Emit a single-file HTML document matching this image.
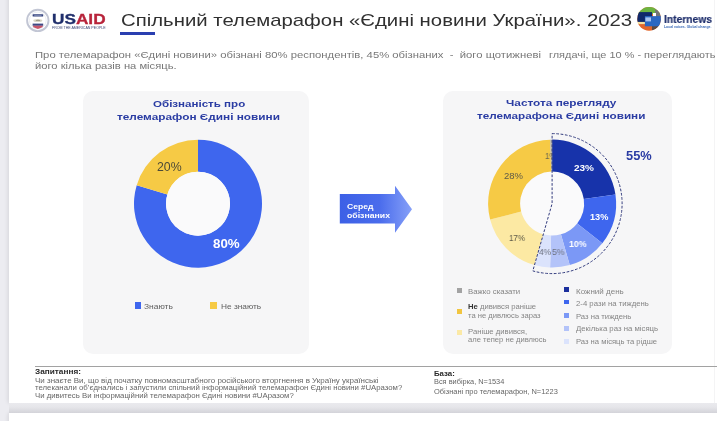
<!DOCTYPE html>
<html lang="uk">
<head>
<meta charset="utf-8">
<title>Спільний телемарафон «Єдині новини України». 2023</title>
<style>
html,body{margin:0;padding:0;}
body{width:717px;height:421px;overflow:hidden;background:#ececf1;position:relative;font-family:"Liberation Sans",sans-serif;}
.page{position:absolute;left:9px;top:-10px;width:720px;height:413px;background:#fff;box-shadow:-1px 0 4px rgba(0,0,20,.10);}
.page2{position:absolute;left:9px;top:413px;width:720px;height:20px;background:#fff;box-shadow:-1px 0 4px rgba(0,0,20,.10);}
.gap{position:absolute;left:9px;top:403px;width:708px;height:10px;background:linear-gradient(#eaeaee,#e6e6ea 40%,#d3d3d9);}
.card{position:absolute;background:#f6f6f7;border-radius:10px;}
.t{position:absolute;white-space:pre;line-height:normal;transform-origin:0 50%;will-change:transform;}
.sq{position:absolute;width:4.8px;height:4.8px;}
svg{position:absolute;left:0;top:0;}
</style>
</head>
<body>
<div class="page"></div>
<div class="page2"></div>
<div class="gap"></div>
<div style="position:absolute;left:714px;top:0;width:1px;height:403px;background:#f4f4f5"></div>
<div class="card" style="left:83.4px;top:91px;width:225.5px;height:263.4px"></div>
<div class="card" style="left:442.8px;top:91px;width:229.7px;height:263.4px"></div>
<div style="position:absolute;left:120px;top:32px;width:34.7px;height:3.2px;background:#2a3fb0"></div>
<div style="position:absolute;left:35px;top:365.7px;width:682px;height:1.3px;background:#a2a2a2"></div>
<svg width="717" height="421" viewBox="0 0 717 421">
<defs>
<linearGradient id="ag" x1="0" y1="0" x2="1" y2="0"><stop offset="0" stop-color="#3c60e6"/><stop offset="0.55" stop-color="#4a6cec"/><stop offset="1" stop-color="#86a0f8"/></linearGradient>
</defs>
<path d="M339.8 194H395V185.7L412 209.2L395 232.7V223.5H339.8Z" fill="url(#ag)"/>

<!-- USAID seal -->
<g>
<circle cx="37.8" cy="20.4" r="10.7" fill="#fff" stroke="#c2c6d4" stroke-width="1.9"/>
<circle cx="37.8" cy="20.4" r="8.4" fill="none" stroke="#e3e5ec" stroke-width="0.7"/>
<rect x="32.6" y="14.3" width="10.6" height="2.3" rx="0.5" fill="#34437f"/>
<rect x="34.2" y="15.1" width="7.4" height="0.7" fill="#8f9abf"/>
<ellipse cx="37.8" cy="20.6" rx="4.5" ry="1.5" fill="#d9d6c6"/>
<ellipse cx="38" cy="20.4" rx="2.4" ry="0.7" fill="#a3a08e"/>
<path d="M32.6 23.6H43.2V25.8H32.6Z" fill="#3f4a86"/>
<path d="M32.8 25.8H43L42.4 27.2L37.9 29L33.4 27.2Z" fill="#c9566a"/>
</g>
<!-- Internews globe -->
<clipPath id="gc"><circle cx="649.1" cy="18.9" r="11.8"/></clipPath>
<g clip-path="url(#gc)">
<rect x="636" y="6" width="27" height="27" fill="#e2662b"/>
<rect x="636" y="6" width="27" height="8" fill="#6cb440"/>
<rect x="655.2" y="9.5" width="8" height="8" fill="#737477"/>
<rect x="652" y="25" width="10" height="8" fill="#5b4a44"/>
<rect x="636" y="21.5" width="9" height="2.6" fill="#f4e2a2"/>
<rect x="636" y="12.1" width="16" height="9.8" fill="#10296b"/>
<rect x="644.9" y="16.1" width="18" height="10.2" fill="#2b68c2"/>
<rect x="653" y="13" width="3" height="3.1" fill="#fff"/>
<rect x="645.4" y="17.4" width="5.6" height="4" fill="#a9c3ee"/>
</g>
<path d="M198.00 139.65A64 64 0 1 1 136.73 185.15L167.37 194.40A32 32 0 1 0 198.00 171.65Z" fill="#3e66ee"/>
<path d="M136.73 185.15A64 64 0 0 1 198.00 139.65L198.00 171.65A32 32 0 0 0 167.37 194.40Z" fill="#f6ca45"/>
<circle cx="198.0" cy="203.65" r="32" fill="#fafafb"/>
<circle cx="552.1" cy="203.6" r="32" fill="#fafafb"/>
<path d="M552.10 139.60A64 64 0 0 1 615.46 194.58L583.78 199.09A32 32 0 0 0 552.10 171.60Z" fill="#1733aa"/>
<path d="M615.46 194.58A64 64 0 0 1 602.33 243.27L577.21 223.43A32 32 0 0 0 583.78 199.09Z" fill="#3e66ee"/>
<path d="M602.33 243.27A64 64 0 0 1 569.74 265.12L560.92 234.36A32 32 0 0 0 577.21 223.43Z" fill="#7b98f6"/>
<path d="M569.74 265.12A64 64 0 0 1 550.09 267.57L551.09 235.58A32 32 0 0 0 560.92 234.36Z" fill="#b3c3f9"/>
<path d="M550.09 267.57A64 64 0 0 1 534.46 265.12L543.28 234.36A32 32 0 0 0 551.09 235.58Z" fill="#dbe3fc"/>
<path d="M534.46 265.12A64 64 0 0 1 490.11 219.52L521.11 211.56A32 32 0 0 0 543.28 234.36Z" fill="#fce9a3"/>
<path d="M490.11 219.52A64 64 0 0 1 550.20 139.63L551.15 171.61A32 32 0 0 0 521.11 211.56Z" fill="#f6ca45"/>
<path d="M550.20 139.63A64 64 0 0 1 552.10 139.60L552.10 171.60A32 32 0 0 0 551.15 171.61Z" fill="#b5b3a8"/>
<path d="M552.10 133.60A70 70 0 1 1 532.81 270.89L552.10 203.60Z" fill="none" stroke="#333c7e" stroke-width="1" stroke-dasharray="2.7 1.6"/>
</svg>
<!-- legend squares -->
<div class="sq" style="left:134.5px;top:302.4px;width:6.6px;height:6.6px;background:#3e66ee"></div>
<div class="sq" style="left:210.4px;top:302.4px;width:6.6px;height:6.6px;background:#f6ca45"></div>
<div class="sq" style="left:457.3px;top:288px;background:#a3a3a3"></div>
<div class="sq" style="left:457.3px;top:309.2px;background:#f1c540"></div>
<div class="sq" style="left:457.3px;top:330.4px;background:#fbe9a6"></div>
<div class="sq" style="left:564.2px;top:286.8px;background:#1b2f9d"></div>
<div class="sq" style="left:564.2px;top:299.7px;background:#3e66ee"></div>
<div class="sq" style="left:564.2px;top:312.8px;background:#7b98f6"></div>
<div class="sq" style="left:564.2px;top:325.9px;background:#b3c3f9"></div>
<div class="sq" style="left:564.2px;top:338.8px;background:#dbe3fc"></div>
<div class="t" id="t0" style="left:120.6px;top:10.62px;font-size:17px;font-weight:400;color:#303030;transform:scaleX(1.1964);">Спільний телемарафон «Єдині новини України». 2023</div>
<div class="t" id="t1" style="left:35px;top:48.63px;font-size:9.8px;font-weight:400;color:#777777;transform:scaleX(1.1526);">Про телемарафон «Єдині новини» обізнані 80% респондентів, 45% обізнаних  -  його щотижневі</div>
<div class="t" id="t2" style="left:548.9px;top:48.63px;font-size:9.8px;font-weight:400;color:#777777;transform:scaleX(1.1157);">глядачі, ще 10 % - переглядають</div>
<div class="t" id="t3" style="left:35px;top:60.23px;font-size:9.8px;font-weight:400;color:#777777;transform:scaleX(1.1427);">його кілька разів на місяць.</div>
<div class="t" id="t4" style="left:52.4px;top:10.42px;font-size:15px;font-weight:700;color:#1f2e6b;transform:scaleX(1.1481);-webkit-text-stroke:0.3px;"><span style="color:#1f2e6b">US</span><span style="color:#b8243b">AID</span></div>
<div class="t" id="t5" style="left:52.2px;top:26.00px;font-size:3.2px;font-weight:400;color:#3a4576;transform:scaleX(1.1242);">FROM THE AMERICAN PEOPLE</div>
<div class="t" id="t6" style="left:664px;top:13.04px;font-size:11px;font-weight:700;color:#1f2f6c;transform:scaleX(0.9346);-webkit-text-stroke:0.2px;">Internews</div>
<div class="t" id="t7" style="left:663.6px;top:24.72px;font-size:3.4px;font-weight:700;color:#3a6ab8;transform:scaleX(1.0183);">Local voices. Global change.</div>
<div class="t" id="t8" style="left:152.6px;top:97.91px;font-size:9.6px;font-weight:700;color:#2a3ca3;transform:scaleX(1.2047);">Обізнаність про</div>
<div class="t" id="t9" style="left:116.8px;top:111.31px;font-size:9.6px;font-weight:700;color:#2a3ca3;transform:scaleX(1.2312);">телемарафон Єдині новини</div>
<div class="t" id="t10" style="left:156.5px;top:159.57px;font-size:12.3px;font-weight:400;color:#4d4a38;transform:scaleX(0.9949);">20%</div>
<div class="t" id="t11" style="left:212.6px;top:236.84px;font-size:12px;font-weight:700;color:#fff;transform:scaleX(1.1111);">80%</div>
<div class="t" id="t12" style="left:144.3px;top:301.98px;font-size:7.2px;font-weight:400;color:#5e5e5e;transform:scaleX(1.1758);">Знають</div>
<div class="t" id="t13" style="left:220.8px;top:301.98px;font-size:7.2px;font-weight:400;color:#5e5e5e;transform:scaleX(1.1579);">Не знають</div>
<div class="t" id="t14" style="left:347px;top:202.16px;font-size:8px;font-weight:700;color:#fff;transform:scaleX(1.0673);">Серед</div>
<div class="t" id="t15" style="left:347px;top:210.86px;font-size:8px;font-weight:700;color:#fff;transform:scaleX(1.0882);">обізнаних</div>
<div class="t" id="t16" style="left:506px;top:97.41px;font-size:9.6px;font-weight:700;color:#2a3ca3;transform:scaleX(1.2318);">Частота перегляду</div>
<div class="t" id="t17" style="left:477px;top:110.21px;font-size:9.6px;font-weight:700;color:#2a3ca3;transform:scaleX(1.2228);">телемарафона Єдині новини</div>
<div class="t" id="t18" style="left:625.6px;top:148.57px;font-size:12.3px;font-weight:700;color:#2a3ca3;transform:scaleX(1.0437);">55%</div>
<div class="t" id="t19" style="left:573.5px;top:163.17px;font-size:9.2px;font-weight:700;color:#fff;transform:scaleX(1.0875);">23%</div>
<div class="t" id="t20" style="left:590px;top:211.87px;font-size:9.2px;font-weight:700;color:#fff;transform:scaleX(0.9788);">13%</div>
<div class="t" id="t21" style="left:569.2px;top:239.27px;font-size:9.2px;font-weight:700;color:#fff;transform:scaleX(0.9570);">10%</div>
<div class="t" id="t22" style="left:551.8px;top:246.77px;font-size:9.2px;font-weight:400;color:#6d7280;transform:scaleX(0.9487);">5%</div>
<div class="t" id="t23" style="left:538.8px;top:246.77px;font-size:9.2px;font-weight:400;color:#6d7280;transform:scaleX(0.9186);">4%</div>
<div class="t" id="t24" style="left:508.8px;top:232.87px;font-size:9.2px;font-weight:400;color:#5d5a48;transform:scaleX(0.8700);">17%</div>
<div class="t" id="t25" style="left:504px;top:171.27px;font-size:9.2px;font-weight:400;color:#5d5a48;transform:scaleX(1.0331);">28%</div>
<div class="t" id="t26" style="left:545.4px;top:150.97px;font-size:9.2px;font-weight:400;color:#6a6650;transform:scaleX(0.8885);clip-path:inset(0 42% 0 0);">1%</div>
<div class="t" id="t27" style="left:467.8px;top:287.63px;font-size:6.6px;font-weight:400;color:#858585;transform:scaleX(1.1834);">Важко сказати</div>
<div class="t" id="t28" style="left:467.8px;top:303.24px;font-size:6.7px;font-weight:400;color:#858585;transform:scaleX(1.1472);"><b style="color:#333">Не</b> дивився раніше</div>
<div class="t" id="t29" style="left:467.8px;top:311.84px;font-size:6.7px;font-weight:400;color:#858585;transform:scaleX(1.1397);">та не дивлюсь зараз</div>
<div class="t" id="t30" style="left:467.8px;top:328.44px;font-size:6.7px;font-weight:400;color:#858585;transform:scaleX(1.1537);">Раніше дивився,</div>
<div class="t" id="t31" style="left:467.8px;top:336.04px;font-size:6.7px;font-weight:400;color:#858585;transform:scaleX(1.1409);">але тепер не дивлюсь</div>
<div class="t" id="t32" style="left:576.1px;top:287.64px;font-size:6.7px;font-weight:400;color:#858585;transform:scaleX(1.1997);">Кожний день</div>
<div class="t" id="t33" style="left:576.1px;top:299.74px;font-size:6.7px;font-weight:400;color:#858585;transform:scaleX(1.1592);">2-4 рази на тиждень</div>
<div class="t" id="t34" style="left:576.1px;top:312.54px;font-size:6.7px;font-weight:400;color:#858585;transform:scaleX(1.1483);">Раз на тиждень</div>
<div class="t" id="t35" style="left:576.1px;top:325.44px;font-size:6.7px;font-weight:400;color:#858585;transform:scaleX(1.1625);">Декілька раз на місяць</div>
<div class="t" id="t36" style="left:576.1px;top:337.74px;font-size:6.7px;font-weight:400;color:#858585;transform:scaleX(1.1412);">Раз на місяць та рідше</div>
<div class="t" id="t37" style="left:35px;top:368.47px;font-size:7px;font-weight:700;color:#2a2a2a;transform:scaleX(1.1790);">Запитання:</div>
<div class="t" id="t38" style="left:35px;top:376.52px;font-size:6.5px;font-weight:400;color:#666666;transform:scaleX(1.2275);">Чи знаєте Ви, що від початку повномасштабного російського вторгнення в Україну українські</div>
<div class="t" id="t39" style="left:35px;top:384.12px;font-size:6.5px;font-weight:400;color:#666666;transform:scaleX(1.1980);">телеканали об’єднались і запустили спільний інформаційний телемарафон Єдині новини #UАразом?</div>
<div class="t" id="t40" style="left:35px;top:392.32px;font-size:6.5px;font-weight:400;color:#666666;transform:scaleX(1.1966);">Чи дивитесь Ви інформаційний телемарафон Єдині новини #UАразом?</div>
<div class="t" id="t41" style="left:433.8px;top:370.37px;font-size:7px;font-weight:700;color:#2a2a2a;transform:scaleX(1.1168);">База:</div>
<div class="t" id="t42" style="left:433.8px;top:378.32px;font-size:6.5px;font-weight:400;color:#666666;transform:scaleX(1.1347);">Вся вибірка, N=1534</div>
<div class="t" id="t43" style="left:433.8px;top:387.72px;font-size:6.5px;font-weight:400;color:#666666;transform:scaleX(1.1468);">Обізнані про телемарафон, N=1223</div>
</body>
</html>
